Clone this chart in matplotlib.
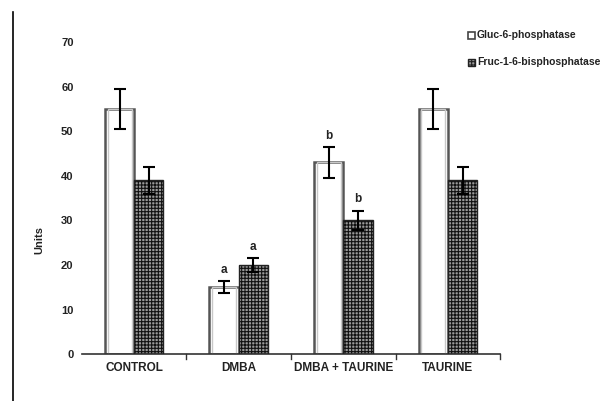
import matplotlib
matplotlib.use("Agg")
import matplotlib.pyplot as plt
from matplotlib.patches import Rectangle
import numpy as np

categories = ["CONTROL", "DMBA", "DMBA + TAURINE", "TAURINE"]
gluc = [55, 15, 43, 55]
gluc_err = [4.5, 1.3, 3.4, 4.5]
fruc = [39, 20, 30, 39]
fruc_err = [3.0, 1.5, 2.2, 3.0]
gluc_sig = ["", "a", "b", ""]
fruc_sig = ["", "a", "b", ""]
series_names = ["Gluc-6-phosphatase", "Fruc-1-6-bisphosphatase"]
yticks = [0, 10, 20, 30, 40, 50, 60, 70]

plt.rcParams['font.family'] = ['Liberation Sans', 'DejaVu Sans']
plt.rcParams['hatch.linewidth'] = 0.8

fig = plt.figure(figsize=(6.16, 4.01), dpi=100)
ax = fig.add_axes([0.133, 0.117, 0.679, 0.778])

x = np.arange(len(categories))
w = 0.28
xg = x - w / 2
xf = x + w / 2

ax.bar(xg, gluc, w, color="white", edgecolor="#555555", linewidth=1.8, zorder=2)
ax.bar(xg, gluc, w * 0.82, bottom=0, color="none", edgecolor="#c8c8c8", linewidth=1.0, zorder=2)
ax.bar(xf, fruc, w, color="#9a9a9a", edgecolor="#111111", linewidth=0, hatch="+++++", zorder=2)
ax.bar(xf, fruc, w, color="none", edgecolor="#222222", linewidth=1.0, zorder=3)

ax.errorbar(xg, gluc, yerr=gluc_err, fmt="none", ecolor="black", elinewidth=1.5, capsize=4, capthick=1.5, zorder=4)
ax.errorbar(xf, fruc, yerr=fruc_err, fmt="none", ecolor="black", elinewidth=1.5, capsize=4, capthick=1.5, zorder=4)

for xi, v, e, s in zip(xg, gluc, gluc_err, gluc_sig):
    if s:
        ax.text(xi, v + e + 1.2, s, ha="center", va="bottom", fontsize=8.5, fontweight="bold", color="#222222")
for xi, v, e, s in zip(xf, fruc, fruc_err, fruc_sig):
    if s:
        ax.text(xi, v + e + 1.2, s, ha="center", va="bottom", fontsize=8.5, fontweight="bold", color="#222222")

ax.set_xlim(-0.5, len(categories) - 0.5)
ax.set_ylim(0, 70)
ax.set_yticks(yticks)
ax.set_yticklabels([str(t) for t in yticks], fontsize=8, fontweight="bold", color="#222222")
ax.tick_params(axis="y", length=0, pad=6)
ax.set_xticks(x)
ax.set_xticklabels(categories, fontsize=8.5, fontweight="bold", color="#222222")
ax.tick_params(axis="x", length=0, pad=6)
for b in np.arange(0.5, len(categories), 1.0):
    ax.plot([b, b], [0, -1.2], color="#333333", lw=1, clip_on=False)

for s in ["top", "right", "left"]:
    ax.spines[s].set_visible(False)
ax.spines["bottom"].set_color("#333333")
ax.spines["bottom"].set_linewidth(1.2)

ax.set_ylabel("Units", fontsize=8, fontweight="bold", color="#222222")
ax.yaxis.set_label_coords(-0.09, 0.365)

# legend
fig.patches.append(Rectangle((468 / 616, 1 - 39 / 401), 7 / 616, 7 / 401, transform=fig.transFigure,
                             facecolor="white", edgecolor="#444444", lw=1.2))
fig.patches.append(Rectangle((468 / 616, 1 - 66 / 401), 7 / 616, 7 / 401, transform=fig.transFigure,
                             facecolor="#9a9a9a", edgecolor="#222222", lw=1.0, hatch="+++++"))
fig.text(477 / 616, 1 - 35 / 401, series_names[0], fontsize=7.5, fontweight="bold", color="#222222", va="center")
fig.text(477 / 616, 1 - 62 / 401, series_names[1], fontsize=7.5, fontweight="bold", color="#222222", va="center")

# left border line
fig.add_artist(plt.Line2D([13 / 616, 13 / 616], [0, 1 - 12 / 401], transform=fig.transFigure, color="black", lw=1.2))

fig.savefig("out.png", dpi=100)
